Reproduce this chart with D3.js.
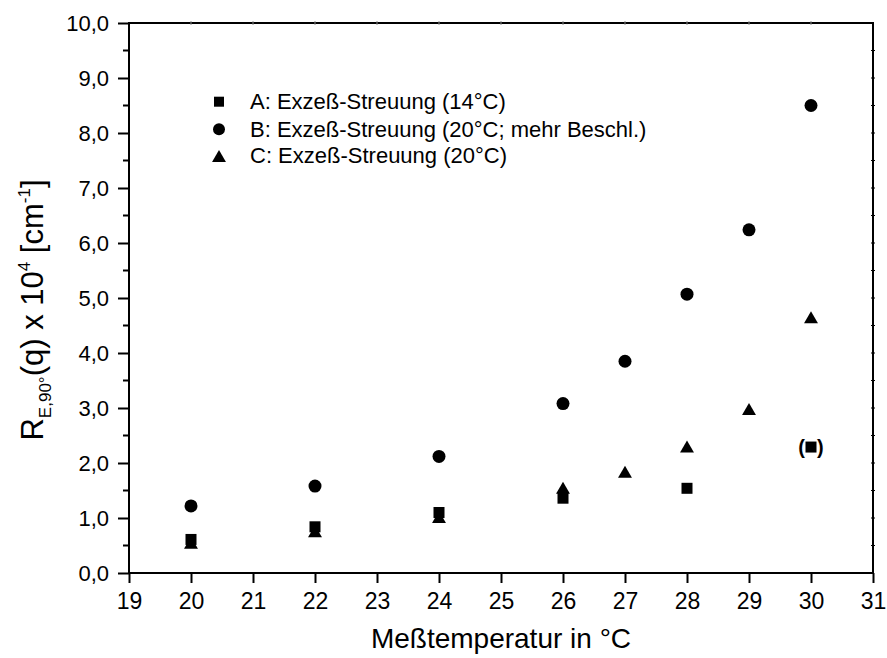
<!DOCTYPE html>
<html><head><meta charset="utf-8">
<script src="https://cdn.jsdelivr.net/npm/d3@7"></script>
<style>body{margin:0;background:#fff}svg{display:block}text{font-family:"Liberation Sans",Arial,sans-serif;fill:#000}</style>
</head><body>
<script>
const temps = [20, 22, 24, 26, 27, 28, 29, 30];
const seriesA = [[20,0.61],[22,0.84],[24,1.10],[26,1.36],[28,1.54]];
const seriesAParen = [[30,2.29]];
const seriesB = [[20,1.22],[22,1.58],[24,2.12],[26,3.08],[27,3.85],[28,5.07],[29,6.24],[30,8.50]];
const seriesC = [[20,0.55],[22,0.76],[24,1.02],[26,1.55],[27,1.84],[28,2.30],[29,2.98],[30,4.65]];
const xTicks = [19,20,21,22,23,24,25,26,27,28,29,30,31];
const yTicks = [0,1,2,3,4,5,6,7,8,9,10];
const legendLabels = ["A: Exzeß-Streuung (14°C)","B: Exzeß-Streuung (20°C; mehr Beschl.)","C: Exzeß-Streuung (20°C)"];

const W=887,H=658;
const m={l:129,t:23,r:14,b:85};
const svg=d3.select("body").append("svg").attr("width",W).attr("height",H);
const x=d3.scaleLinear().domain([19,31]).range([m.l,W-m.r]);
const y=d3.scaleLinear().domain([0,10]).range([H-m.b,m.t]);
const fmt=d=>d3.format(".1f")(d).replace(".",",");

// frame
svg.append("rect").attr("x",x(19)).attr("y",y(10)).attr("width",x(31)-x(19)).attr("height",y(0)-y(10))
  .attr("fill","none").attr("stroke","#000").attr("stroke-width",2);

// left axis
const yAxis=d3.axisLeft(y).tickValues(yTicks).tickFormat(fmt).tickSize(11).tickPadding(9);
const gy=svg.append("g").attr("transform",`translate(${x(19)},0)`).call(yAxis);
gy.select(".domain").remove();
gy.selectAll("line").attr("stroke-width",2);
gy.selectAll("text").style("font-size","22px").attr("dy","0.36em");
const yMinor=d3.range(0.5,10,1);
svg.append("g").selectAll("line").data(yMinor).join("line")
  .attr("x1",x(19)-6).attr("x2",x(19)).attr("y1",d=>y(d)).attr("y2",d=>y(d)).attr("stroke","#000").attr("stroke-width",2);
// right axis small ticks
svg.append("g").selectAll("line").data(d3.range(0.5,10,0.5)).join("line")
  .attr("x1",x(31)-2).attr("x2",x(31)+2).attr("y1",d=>y(d)).attr("y2",d=>y(d)).attr("stroke","#000").attr("stroke-width",1);

// bottom axis
const xAxis=d3.axisBottom(x).tickValues(xTicks).tickFormat(d3.format("d")).tickSize(10).tickPadding(10);
const gx=svg.append("g").attr("transform",`translate(0,${y(0)})`).call(xAxis);
gx.select(".domain").remove();
gx.selectAll("line").attr("stroke-width",2);
gx.selectAll("text").style("font-size","23px");
// top small ticks
svg.append("g").selectAll("line").data(xTicks.slice(1,-1)).join("line")
  .attr("x1",d=>x(d)).attr("x2",d=>x(d)).attr("y1",y(10)-2).attr("y2",y(10)+2).attr("stroke","#888").attr("stroke-width",1);

// markers
const tri=(s)=>`M0,${-s/2}L${s*0.58},${s/2}L${-s*0.58},${s/2}Z`;
const g=svg.append("g");
g.selectAll(".c").data(seriesC).join("path").attr("transform",d=>`translate(${x(d[0])},${y(d[1])})`).attr("d",tri(12)).attr("fill","#000");
g.selectAll(".a").data(seriesA.concat(seriesAParen)).join("rect").attr("x",d=>x(d[0])-5.5).attr("y",d=>y(d[1])-5.5).attr("width",11).attr("height",11).attr("fill","#000");
g.selectAll(".b").data(seriesB).join("circle").attr("cx",d=>x(d[0])).attr("cy",d=>y(d[1])).attr("r",6.5).attr("fill","#000");
// parentheses around point at 30
seriesAParen.forEach(d=>{
  svg.append("text").attr("x",x(d[0])-6).attr("y",y(d[1])).attr("dy","0.34em").attr("text-anchor","end").style("font-size","20px").style("font-weight","bold").text("(");
  svg.append("text").attr("x",x(d[0])+6).attr("y",y(d[1])).attr("dy","0.34em").attr("text-anchor","start").style("font-size","20px").style("font-weight","bold").text(")");
});

// legend
const lg=svg.append("g");
const ly=[101.7,129.3,156];
lg.append("rect").attr("x",219-5).attr("y",ly[0]-5).attr("width",10).attr("height",10);
lg.append("circle").attr("cx",219).attr("cy",ly[1]).attr("r",6);
lg.append("path").attr("transform",`translate(219,${ly[2]})`).attr("d",tri(12));
legendLabels.forEach((t,i)=>lg.append("text").attr("x",250).attr("y",ly[i]).attr("dy","0.33em").style("font-size","22px").text(t));

// axis titles
svg.append("text").attr("x",(x(19)+x(31))/2).attr("y",648).attr("text-anchor","middle").style("font-size","28px").text("Meßtemperatur in °C");
const yl=svg.append("text").attr("transform","translate(43,310) rotate(-90)").attr("text-anchor","middle").style("font-size","31px");
yl.append("tspan").text("R");
yl.append("tspan").attr("dy",8).style("font-size","17px").text("E,90°");
yl.append("tspan").attr("dy",-8).text("(q) x 10");
yl.append("tspan").attr("dy",-13).style("font-size","17px").text("4");
yl.append("tspan").attr("dy",13).text("\u00a0[cm");
yl.append("tspan").attr("dy",-13).style("font-size","17px").text("-1");
yl.append("tspan").attr("dy",13).text("]");
</script>
</body></html>
